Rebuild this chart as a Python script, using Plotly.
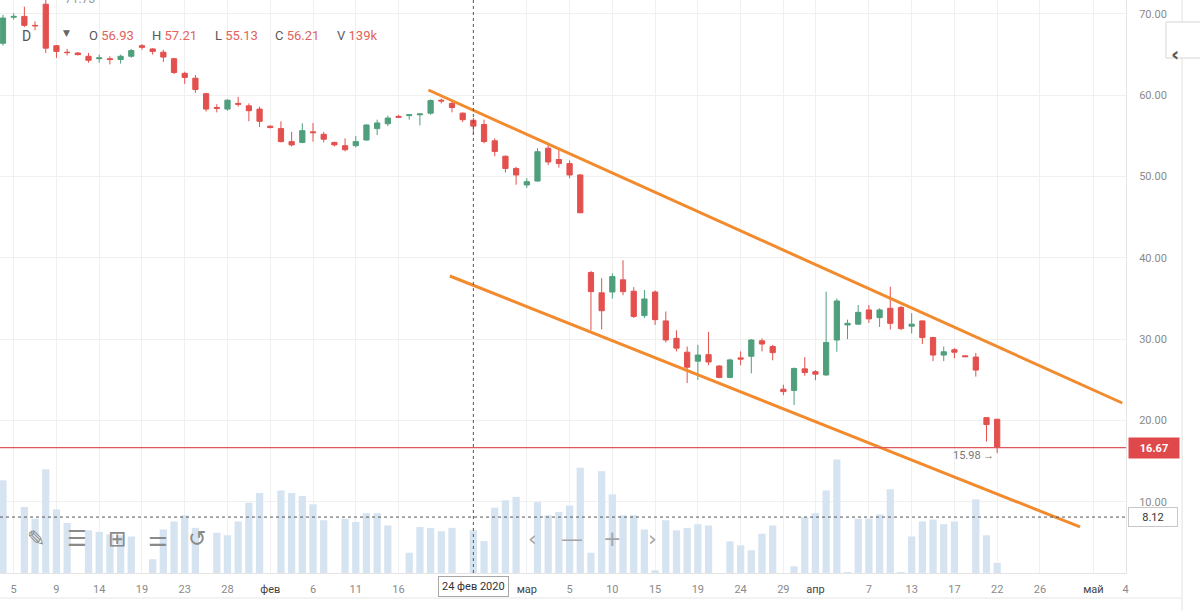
import plotly.graph_objects as go

# trading slots shown on the chart (Sunday-Friday sessions; Saturdays and Good Friday absent)
jan_days = [3, 5, 6, 7, 8, 9, 10, 12, 13, 14, 15, 16, 17, 19, 20, 21, 22, 23, 24, 26, 27, 28, 29, 30, 31]
feb_days = [2, 3, 4, 5, 6, 7, 9, 10, 11, 12, 13, 14, 16, 17, 18, 19, 20, 21, 23, 24, 25, 26, 27, 28]
mar_days = [1, 2, 3, 4, 5, 6, 8, 9, 10, 11, 12, 13, 15, 16, 17, 18, 19, 20, 22, 23, 24, 25, 26, 27, 29, 30, 31]
apr_days = [1, 2, 3, 5, 6, 7, 8, 9, 12, 13, 14, 15, 16, 17, 19, 20, 21, 22]
# empty space to the right of the last candle (calendar days)
future_apr_days = [23, 24, 25, 26, 27, 28, 29, 30]
future_may_days = [1, 2, 3, 4, 5]

opens = [66.4, 69.6, 69.7, 68.6, 71.2, 66.1, 65.3, 65.2, 64.8, 64.5,
         64.5, 64.4, 64.8, 66.1, 65.7, 65.3, 64.5, 62.7, 62.1, 60.2,
         58.5, 58.3, 59.0, 58.7, 58.3, 56.2, 55.9, 54.3, 54.2, 55.5,
         55.2, 54.2, 53.8, 53.8, 54.5, 55.9, 56.5, 57.4, 57.5, 57.6,
         57.8, 59.4, 59.0, 57.8, 56.93, 56.4, 54.4, 52.5, 51.0, 48.97,
         49.45, 53.5, 52.1, 51.6, 50.2, 38.2, 35.7, 35.8, 37.3, 35.9,
         32.9, 35.8, 32.25, 30.1, 28.4, 27.3, 28.1, 26.7, 25.3, 27.7,
         27.9, 29.8, 29.1, 23.85, 23.7, 26.35, 26.0, 25.6, 29.9, 31.75,
         31.85, 33.6, 32.65, 33.8, 33.9, 31.6, 32.25, 30.2, 28.05, 28.7,
         27.95, 27.8, 20.35, 20.15]
highs = [69.9, 70.1, 70.9, 69.1, 71.73, 66.2, 65.7, 65.3, 65.2, 65.0,
         64.8, 65.0, 65.7, 66.3, 65.8, 65.6, 64.6, 62.9, 62.5, 60.3,
         58.9, 59.5, 59.8, 59.0, 58.6, 56.3, 56.8, 55.5, 56.55, 56.6,
         55.5, 54.3, 54.7, 55.0, 56.4, 57.0, 57.5, 57.6, 57.7, 57.8,
         59.5, 59.6, 59.2, 57.9, 57.21, 57.0, 54.7, 52.6, 51.2, 49.8,
         53.5, 53.9, 53.5, 52.0, 50.3, 38.4, 37.5, 38.1, 39.7, 36.4,
         36.05, 36.0, 33.4, 31.1, 29.1, 29.3, 30.9, 26.8, 27.6, 28.5,
         30.0, 30.1, 29.3, 24.4, 26.5, 27.8, 26.2, 35.85, 35.0, 32.4,
         34.2, 34.2, 33.8, 36.45, 34.1, 33.2, 32.3, 30.3, 29.1, 28.9,
         28.0, 28.3, 20.4, 20.2]
lows = [66.1, 69.3, 68.4, 68.0, 65.2, 64.6, 64.9, 64.9, 64.0, 64.0,
        63.8, 63.9, 64.6, 65.6, 65.0, 64.1, 62.6, 61.4, 60.3, 58.0,
        57.9, 58.1, 58.6, 56.8, 56.1, 55.9, 54.2, 53.7, 54.1, 54.3,
        54.2, 53.7, 53.1, 53.6, 54.4, 55.1, 56.2, 57.2, 57.0, 56.3,
        57.6, 59.0, 57.9, 56.7, 55.13, 54.1, 52.5, 50.5, 49.0, 48.6,
        49.4, 51.4, 51.1, 49.8, 45.5, 31.1, 31.2, 35.0, 35.4, 32.6,
        32.6, 31.75, 29.6, 28.5, 24.6, 25.0, 26.8, 25.2, 25.2, 26.8,
        25.8, 28.5, 27.4, 23.1, 21.9, 25.5, 24.95, 25.5, 28.45, 30.0,
        31.8, 32.0, 31.5, 31.2, 31.1, 30.7, 29.4, 27.3, 27.3, 27.65,
        27.8, 25.4, 17.4, 15.98]
closes = [69.5, 69.7, 68.6, 68.55, 65.8, 65.4, 65.25, 65.0, 64.3, 64.6,
          64.4, 64.8, 65.5, 65.9, 65.4, 64.7, 62.8, 62.2, 60.7, 58.3,
          58.4, 59.4, 58.9, 58.1, 56.8, 56.05, 54.3, 53.9, 55.65, 55.4,
          54.6, 53.9, 53.3, 54.3, 56.35, 56.6, 57.2, 57.3, 57.6, 57.7,
          59.35, 59.3, 58.5, 57.0, 56.21, 54.3, 53.1, 51.0, 50.2, 49.37,
          53.06, 51.8, 51.6, 50.2, 45.55, 35.85, 33.5, 37.7, 35.85, 32.8,
          34.95, 32.4, 29.9, 28.9, 26.55, 28.05, 27.2, 25.3, 27.45, 27.55,
          29.9, 29.4, 28.35, 23.55, 26.4, 25.9, 25.7, 29.6, 34.7, 31.95,
          33.3, 32.5, 33.6, 31.95, 31.3, 31.85, 30.2, 28.05, 28.45, 28.4,
          27.85, 26.2, 19.5, 16.67]
volumes_k = [302, 0, 215, 177, 338, 207, 163, 0, 139, 134,
             126, 123, 119, 0, 45, 142, 168, 188, 147, 0,
             131, 123, 168, 229, 261, 0, 269, 261, 251, 224,
             172, 0, 177, 166, 195, 195, 155, 0, 66, 150,
             147, 136, 147, 0, 139, 104, 213, 237, 248, 0,
             231, 188, 199, 220, 343, 66, 332, 256, 188, 188,
             142, 9, 172, 139, 147, 159, 155, 0, 103, 90,
             74, 128, 155, 0, 22, 182, 195, 269, 370, 3,
             177, 177, 191, 273, 3, 119, 168, 174, 159, 168,
             0, 240, 123, 33]

# labels hidden under the crosshair date box are left out
tick_dates = ["2020-01-05", "2020-01-09", "2020-01-14", "2020-01-19", "2020-01-23",
              "2020-01-28", "2020-02-02", "2020-02-06", "2020-02-11", "2020-02-16",
              "2020-03-01", "2020-03-05", "2020-03-10",
              "2020-03-15", "2020-03-19", "2020-03-24", "2020-03-29", "2020-04-01",
              "2020-04-07", "2020-04-13", "2020-04-17", "2020-04-22", "2020-04-26",
              "2020-05-01", "2020-05-04"]
tick_labels = ["5", "9", "14", "19", "23", "28", "фев", "6", "11", "16",
               "мар", "5", "10", "15", "19", "24", "29", "апр", "7", "13", "17", "22",
               "26", "май", "4"]
month_labels = {"фев", "мар", "апр", "май"}

# drawn channel (slot position, price)
channel_upper = [(39.8, 60.65), (104.7, 22.15)]
channel_lower = [(41.8, 37.77), (100.75, 6.9)]

last_price = 16.67
period_low = 15.98
period_high = 71.73
cursor_date = "2020-02-24"
cursor_price = 8.12
legend_vals = {"O": "56.93", "H": "57.21", "L": "55.13", "C": "56.21", "V": "139k"}

candle_dates = (["2020-01-%02d" % d for d in jan_days] + ["2020-02-%02d" % d for d in feb_days]
                + ["2020-03-%02d" % d for d in mar_days] + ["2020-04-%02d" % d for d in apr_days])
all_dates = (candle_dates + ["2020-04-%02d" % d for d in future_apr_days]
             + ["2020-05-%02d" % d for d in future_may_days])
xs = list(range(len(candle_dates)))
tickvals = [all_dates.index(d) for d in tick_dates]
ticktext = ["<span style='color:#444'>%s</span>" % t if t in month_labels else t for t in tick_labels]
cursor_x = candle_dates.index(cursor_date)

RED = "#e3504d"
GREEN = "#4f9f7c"
ORANGE = "#f28a2e"
FONT = "Roboto"
PW, PH = 1126, 573  # plot area in pixels


def px(x):
    return x / PW


def py(y):
    return (PH - y) / PH


fig = go.Figure()

fig.add_trace(go.Bar(
    x=xs, y=volumes_k, yaxis="y", marker_color="#d6e4f1", marker_line_width=0,
    width=0.68, showlegend=False, hoverinfo="skip",
))
fig.add_trace(go.Candlestick(
    x=xs, open=opens, high=highs, low=lows, close=closes, yaxis="y2",
    increasing=dict(line=dict(color=GREEN, width=1), fillcolor=GREEN),
    decreasing=dict(line=dict(color=RED, width=1), fillcolor=RED),
    whiskerwidth=0, showlegend=False,
))
for line in (channel_upper, channel_lower):
    fig.add_trace(go.Scatter(
        x=[p[0] for p in line], y=[p[1] for p in line], yaxis="y2", mode="lines",
        line=dict(color=ORANGE, width=3), showlegend=False, hoverinfo="skip",
    ))
# last price line
fig.add_trace(go.Scatter(
    x=[-0.28, 105.05], y=[last_price, last_price], yaxis="y2", mode="lines",
    line=dict(color="#e0585c", width=1.2), showlegend=False, hoverinfo="skip",
))

shapes = [
    # crosshair
    dict(type="line", xref="x", x0=cursor_x, x1=cursor_x, yref="paper", y0=0, y1=1,
         line=dict(color="#555", width=1, dash="dot")),
    dict(type="line", xref="paper", x0=0, x1=1, yref="y2", y0=cursor_price, y1=cursor_price,
         line=dict(color="#555", width=1, dash="dot")),
    # right panel edge and bottom border
    dict(type="line", xref="paper", x0=px(1182), x1=px(1182), yref="paper", y0=py(611), y1=1,
         line=dict(color="#e2e2e2", width=1)),
    dict(type="line", xref="paper", x0=0, x1=px(1182), yref="paper", y0=py(598), y1=py(598),
         line=dict(color="#e6e6e6", width=1)),
    # collapse tab
    dict(type="rect", xref="paper", x0=px(1166), x1=px(1206), yref="paper", y0=py(58), y1=py(22),
         line=dict(color="#d6d6d6", width=1), fillcolor="white"),
]

annotations = [
    dict(text="D", xref="paper", yref="paper", x=px(20), y=py(26), showarrow=False,
         font=dict(family=FONT, size=14, color="#555")),
    dict(text="▼", xref="paper", yref="paper", x=px(61), y=py(26), showarrow=False,
         font=dict(family="DejaVu Sans", size=9, color="#666")),
    dict(text=str(period_high), xref="x", x=7.2, yref="paper", y=1, yanchor="middle", yshift=1,
         showarrow=False, font=dict(family=FONT, size=12, color="#999")),
]
for key, xpix in zip(["O", "H", "L", "C", "V"], [87, 150, 213, 273, 335]):
    annotations.append(dict(
        text="%s <span style='color:#e0645e'>%s</span>" % (key, legend_vals[key]),
        xref="paper", yref="paper", x=px(xpix), y=py(26), xanchor="left", showarrow=False,
        font=dict(family=FONT, size=13, color="#5a5a5a"),
    ))

# price labels on the right axis
annotations.append(dict(
    text="<b>%.2f</b>" % last_price, xref="paper", x=1, xanchor="left", xshift=2,
    yref="y2", y=last_price, showarrow=False, bgcolor="#e0494b", width=48, height=18,
    font=dict(family=FONT, size=11, color="white"),
))
annotations.append(dict(
    text="%.2f" % cursor_price, xref="paper", x=1, xanchor="left", xshift=2,
    yref="y2", y=cursor_price, showarrow=False, bgcolor="white", bordercolor="#c8c8c8",
    borderwidth=1, width=46, height=16, font=dict(family=FONT, size=11, color="#333"),
))
annotations.append(dict(
    text="24 фев 2020", xref="x", x=cursor_x, yref="paper", y=0, yanchor="top", yshift=-3,
    showarrow=False, bgcolor="white", bordercolor="#a8a8a8", borderwidth=1, borderpad=3,
    font=dict(family=FONT, size=11, color="#333"),
))
annotations.append(dict(
    text="%.2f →" % period_low, xref="x", x=xs[-1], xanchor="right", xshift=-1,
    yref="y2", y=period_low, yshift=-2, showarrow=False,
    font=dict(family=FONT, size=11, color="#777"),
))
annotations.append(dict(
    text="<b>‹</b>", xref="paper", yref="paper", x=px(1181), y=py(40), showarrow=False,
    font=dict(family="DejaVu Sans", size=20, color="#555"),
))

# chart toolbar and navigation glyphs
for glyph, xpix in zip(["✎", "☰", "⊞", "⚌", "↺"], [25, 65, 106, 146, 186]):
    annotations.append(dict(
        text=glyph, xref="paper", yref="paper", x=px(xpix), y=py(553), showarrow=False,
        font=dict(family="DejaVu Sans", size=22, color="#8a8a8a"),
    ))
for glyph, xpix in zip(["‹", "—", "+", "›"], [532, 572, 612, 652]):
    annotations.append(dict(
        text=glyph, xref="paper", yref="paper", x=px(xpix), y=py(553), showarrow=False,
        font=dict(family="DejaVu Sans", size=22, color="#a5a5a5"),
    ))

fig.update_layout(
    width=1200, height=611, autosize=False,
    margin=dict(l=0, r=1200 - PW, t=0, b=611 - PH),
    paper_bgcolor="white", plot_bgcolor="white",
    font=dict(family=FONT),
    bargap=0.3,
    xaxis=dict(
        range=[-0.28, 105.05], tickvals=tickvals, ticktext=ticktext,
        showgrid=True, gridcolor="#f0f0f0", zeroline=False, ticks="",
        showline=True, linecolor="#e4e4e4", tickfont=dict(size=11, color="#8a8a8a"),
        ticklabelstandoff=6, rangeslider=dict(visible=False), fixedrange=True,
    ),
    yaxis=dict(range=[0, 1867], visible=False, showgrid=False, fixedrange=True),
    yaxis2=dict(
        overlaying="y", side="right", range=[1.24, 71.72], tick0=0, dtick=10,
        tickformat=".2f", showgrid=True, gridcolor="#f0f0f0", zeroline=False, ticks="",
        showline=True, linecolor="#e4e4e4", tickfont=dict(size=11, color="#8a8a8a"),
        ticklabelstandoff=10, fixedrange=True,
    ),
    shapes=shapes,
    annotations=annotations,
    showlegend=False,
)

fig.write_html(
    "out.html",
    config=dict(displayModeBar=False),
    post_script="document.body.style.margin='0';document.body.style.overflow='hidden';",
)
